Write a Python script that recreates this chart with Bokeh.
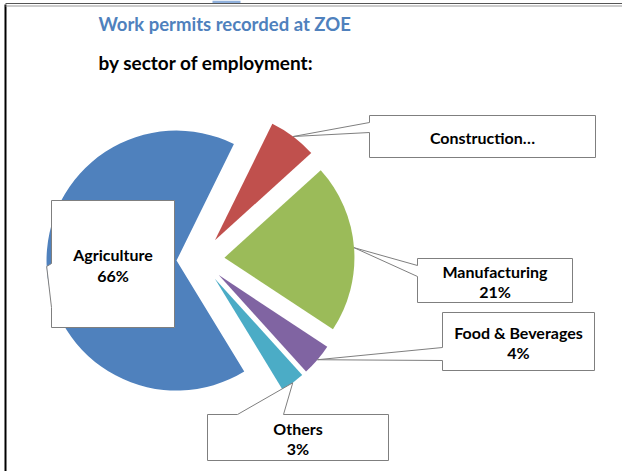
import numpy as np
from bokeh.plotting import figure
from bokeh.models import Range1d
from bokeh.core.properties import value
from bokeh.embed import file_html
from bokeh.resources import INLINE

# ---- data ----
sectors = ["Agriculture", "Construction", "Manufacturing", "Food & Beverages", "Others"]
shares = [66, 6, 21, 4, 3]
pct_labels = ["66%", "", "21%", "4%", "3%"]
shown_names = ["Agriculture", "Construction…", "Manufacturing", "Food & Beverages", "Others"]
colors = ["#4F81BD", "#C0504D", "#9BBB59", "#8064A2", "#4BACC6"]
title = "Work permits recorded at ZOE"
subtitle = "by sector of employment:"

# ---- layout ----
W, H = 622, 471
PH = 471  # reference picture height


def Y(y):
    return PH - y


p = figure(width=W, height=H, x_range=Range1d(0, W), y_range=Range1d(PH - H, PH),
           output_backend="svg", toolbar_location=None, min_border=0,
           x_axis_location=None, y_axis_location=None)
p.grid.visible = False
p.outline_line_color = None
p.background_fill_color = "white"
p.border_fill_color = "white"

FONT = value("Lato")

# frame of the source page
p.quad(left=[212], right=[240], bottom=[Y(2.5)], top=[Y(0)], fill_color="#8FB0DC",
       line_color=None)
p.line(x=[5, 5], y=[Y(4), Y(471)], line_color="black", line_width=2)
p.line(x=[5, 622], y=[Y(3), Y(3)], line_color="#555555", line_width=1)
p.line(x=[5, 622], y=[Y(5.5), Y(5.5)], line_color="#999999", line_width=1)

# pie geometry
cx, cy = 200.0, Y(259)
r = 130.0
expl = 24.0
theta0 = -58.6
vals = np.array(shares, dtype=float)
cum = np.concatenate([[0], np.cumsum(vals)]) / vals.sum() * 360.0
a = theta0 - cum[:-1]
b = theta0 - cum[1:]
mid = np.radians((a + b) / 2)
wx = cx + expl * np.cos(mid)
wy = cy + expl * np.sin(mid)
p.wedge(x=wx, y=wy, radius=r, start_angle=np.radians(b), end_angle=np.radians(a),
        fill_color=colors, line_color=None)

# callout boxes (screen coords): x0, y0, x1, y1, side, base points
boxes = [
    (51, 200, 174, 327, "left", (263, 307)),
    (369, 115, 595, 157, "left", (122, 132)),
    (417, 258, 572, 302, "left", (265, 276)),
    (442, 312, 594, 370, "left", (347, 360)),
    (207, 414, 388, 460, "top", (237, 283)),
]
tipx = cx + (expl + r) * np.cos(mid)
tipy = cy + (expl + r) * np.sin(mid)
pxs, pys, tx, ty, texts = [], [], [], [], []
for i, (x0, y0, x1, y1, side, (b1, b2)) in enumerate(boxes):
    if side == "left":
        xs = [x0, x1, x1, x0, x0, float(tipx[i]), x0]
        ys = [Y(y0), Y(y0), Y(y1), Y(y1), Y(b2), float(tipy[i]), Y(b1)]
    else:
        xs = [x0, b1, float(tipx[i]), b2, x1, x1, x0]
        ys = [Y(y0), Y(y0), float(tipy[i]), Y(y0), Y(y0), Y(y1), Y(y1)]
    pxs.append(xs)
    pys.append(ys)
    tx.append((x0 + x1) / 2)
    ty.append(Y((y0 + y1) / 2 + 1))
    t = shown_names[i] + ("\n" + pct_labels[i] if pct_labels[i] else "")
    texts.append(t)

p.patches(xs=pxs, ys=pys, fill_color="white", line_color="#7F7F7F", line_width=1)
p.text(x=tx, y=ty, text=texts, text_align="center", text_baseline="middle",
       text_font=FONT, text_font_style="bold", text_font_size="16px",
       text_line_height=1.1, text_color="black")

# titles
p.text(x=[98], y=[Y(23)], text=[title], text_align="left", text_baseline="middle",
       text_font=FONT, text_font_style="bold", text_font_size="18.5px", text_color="#4F81BD")
p.text(x=[98], y=[Y(62)], text=[subtitle], text_align="left", text_baseline="middle",
       text_font=FONT, text_font_style="bold", text_font_size="19px", text_color="black")

open("out.html", "w").write(file_html(p, INLINE))
